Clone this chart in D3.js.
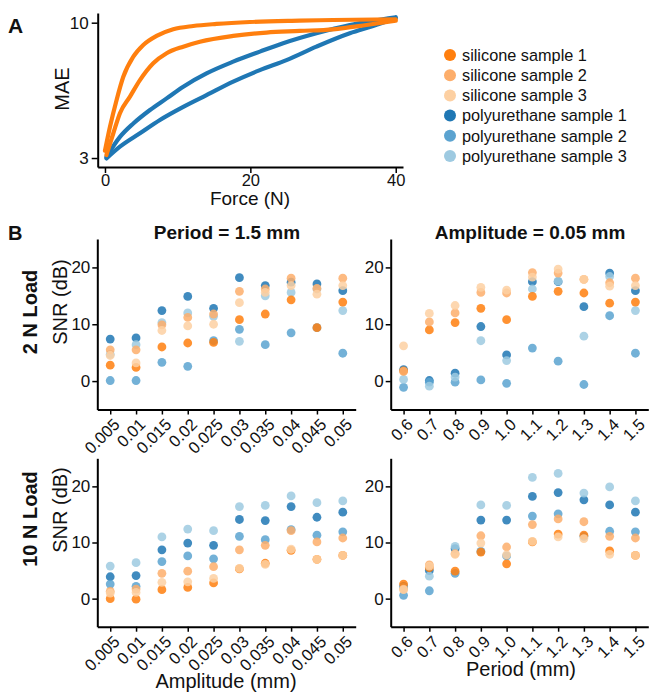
<!DOCTYPE html>
<html><head><meta charset="utf-8">
<script src="https://cdn.jsdelivr.net/npm/d3@7"></script>
<style>body{margin:0;background:#fff} text{font-family:"Liberation Sans",Arial,sans-serif}</style>
</head><body>
<svg id="c" width="649" height="692"></svg>
<script>
// ---------- Panel A data (Force N, MAE) ----------
const silUpForce = [0, 0.69, 1.6, 2.52, 3.9, 5.27, 7.1, 9.39, 12.14, 15.35, 19.93, 26.8, 31.38, 40];
const silUpMAE   = [3.2, 3.96, 5.03, 6.18, 7.39, 8.20, 8.89, 9.43, 9.71, 9.89, 10.06, 10.18, 10.24, 10.31];
const silDnForce = [0.2, 1.15, 2.06, 3.44, 4.81, 6.64, 8.48, 10.77, 13.06, 17.64, 22.22, 26.8, 31.38, 35.97, 40];
const silDnMAE   = [3.08, 3.74, 4.47, 5.18, 6.00, 6.97, 7.62, 8.08, 8.44, 8.89, 9.16, 9.29, 9.43, 9.80, 10.18];
const puUpForce  = [0.2, 2.06, 3.9, 6.19, 8.48, 10.77, 13.97, 17.64, 21.31, 24.51, 29.09, 33.68, 40];
const puUpMAE    = [3.03, 3.62, 4.08, 4.60, 5.10, 5.66, 6.37, 7.07, 7.73, 8.33, 9.10, 9.80, 10.50];
const puDnForce  = [0.2, 2.06, 4.81, 7.56, 10.77, 13.97, 17.64, 21.31, 24.97, 29.09, 33.68, 36.88, 40];
const puDnMAE    = [2.99, 3.32, 3.74, 4.21, 4.73, 5.25, 5.92, 6.56, 7.17, 8.08, 9.10, 9.71, 10.40];
const forceTicks = [0, 20, 40];
const maeTicks = [3, 10];

// ---------- Panel B data ----------
const seriesNames = ["silicone sample 1","silicone sample 2","silicone sample 3",
                     "polyurethane sample 1","polyurethane sample 2","polyurethane sample 3"];
const seriesColors = ["#ff7f0e","#fdae6b","#fdd0a2","#1f77b4","#5ba3d0","#9ecae1"];
const amplitudes = ["0.005","0.01","0.015","0.02","0.025","0.03","0.035","0.04","0.045","0.05"];
const periods = ["0.6","0.7","0.8","0.9","1.0","1.1","1.2","1.3","1.4","1.5"];
const snrTicks = [0, 10, 20];

// SNR vs amplitude, period = 1.5 mm, 2 N load (rows = series)
const snrAmp2N = [
  [2.8, 2.4, 6.0, 6.7, 6.8, 10.8, 11.8, 14.3, 9.4, 13.9],
  [5.5, 5.5, 9.9, 11.2, 11.8, 15.8, 16.2, 18.1, 16.3, 18.1],
  [4.5, 3.2, 8.9, 9.7, 10.0, 13.8, 15.6, 16.8, 15.3, 16.8],
  [7.4, 7.6, 12.4, 14.9, 12.8, 18.2, 16.8, 17.4, 17.1, 15.9],
  [0.1, 0.1, 3.3, 2.6, 7.1, 9.1, 6.4, 8.5, 9.4, 4.9],
  [4.7, 6.4, 10.3, 12.0, 11.4, 7.0, 15.0, 15.6, 16.2, 12.4]
];
// SNR vs period, amplitude = 0.05 mm, 2 N load
const snrPer2N = [
  [1.8, 9.0, 10.3, 12.8, 10.8, 14.9, 15.8, 15.5, 13.7, 13.9],
  [1.7, 10.4, 12.0, 15.6, 15.5, 19.1, 19.0, 17.9, 17.3, 18.1],
  [6.2, 11.9, 13.3, 16.5, 16.0, 18.3, 19.7, 17.9, 16.7, 16.8],
  [2.0, 0.1, 1.4, 9.6, 4.6, 17.5, 17.5, 13.1, 19.0, 15.9],
  [-1.1, -0.2, -0.2, 0.2, -0.4, 5.8, 3.5, -0.6, 11.5, 4.9],
  [0.3, -0.9, 0.7, 7.1, 3.6, 16.2, 17.6, 7.9, 18.4, 12.4]
];
// SNR vs amplitude, period = 1.5 mm, 10 N load
const snrAmp10N = [
  [0.0, -0.1, 1.6, 2.0, 2.8, 5.3, 6.3, 8.6, 7.0, 7.7],
  [1.3, 1.7, 4.5, 4.9, 5.7, 8.7, 9.5, 12.1, 10.1, 10.8],
  [1.0, 1.1, 2.9, 3.0, 3.6, 5.4, 6.1, 8.8, 7.0, 7.7],
  [3.9, 4.1, 8.7, 9.9, 9.5, 14.1, 13.9, 16.4, 14.5, 15.4],
  [2.6, 2.2, 6.6, 7.6, 7.1, 11.1, 10.5, 12.3, 11.3, 11.9],
  [5.8, 6.4, 11.0, 12.4, 12.1, 16.4, 16.6, 18.3, 17.1, 17.4]
];
// SNR vs period, amplitude = 0.05 mm, 10 N load
const snrPer10N = [
  [2.6, 5.5, 4.9, 8.3, 6.2, 10.1, 11.5, 11.3, 8.5, 7.7],
  [1.7, 6.0, 8.0, 11.2, 9.2, 13.2, 14.2, 13.7, 11.1, 10.8],
  [1.6, 5.8, 7.9, 9.9, 7.8, 10.2, 11.0, 10.7, 7.9, 7.7],
  [2.2, 5.0, 8.9, 14.0, 14.0, 18.2, 18.9, 17.6, 16.7, 15.4],
  [0.6, 1.4, 4.5, 8.4, 7.6, 14.7, 15.1, 11.1, 12.0, 11.9],
  [2.0, 4.0, 9.3, 16.7, 16.6, 21.6, 22.3, 18.8, 19.9, 17.4]
];

const FONT = "Liberation Sans, Arial, sans-serif";
const svg = d3.select("#c");

function styleAxis(g, fs) {
  g.attr("font-size", fs).attr("font-family", FONT);
  g.select(".domain").attr("stroke", "#000").attr("stroke-width", 2);
  g.selectAll(".tick line").attr("stroke", "#000").attr("stroke-width", 1.5);
  g.selectAll(".tick text").attr("fill", "#111");
}
function label(x, y, txt, fs, opts = {}) {
  const t = svg.append("text").attr("x", x).attr("y", y).text(txt)
    .attr("font-size", fs).attr("font-family", FONT).attr("fill", "#111")
    .attr("text-anchor", opts.anchor || "middle");
  if (opts.bold) t.attr("font-weight", "bold");
  if (opts.rotate) t.attr("transform", `rotate(-90,${x},${y})`);
  return t;
}

// ---------- Panel A ----------
const xA = d3.scaleLinear().domain([-1, 41]).range([97.7, 403]);
const yA = d3.scaleLog().domain([2.77, 10.9]).range([167, 13]);
const lineA = d3.line().x(d => xA(d[0])).y(d => yA(d[1])).curve(d3.curveMonotoneX);
const curves = [
  [puUpForce, puUpMAE, "#1f77b4"],
  [puDnForce, puDnMAE, "#1f77b4"],
  [silUpForce, silUpMAE, "#ff7f0e"],
  [silDnForce, silDnMAE, "#ff7f0e"]
];
curves.forEach(([fx, my, col]) => {
  svg.append("path").datum(d3.zip(fx, my)).attr("d", lineA)
    .attr("fill", "none").attr("stroke", col).attr("stroke-width", 4.2)
    .attr("stroke-linecap", "round").attr("stroke-linejoin", "round");
});
const gAx = svg.append("g").attr("transform", "translate(0,167)")
  .call(d3.axisBottom(xA).tickValues(forceTicks).tickSize(6).tickSizeOuter(0).tickPadding(1));
styleAxis(gAx, 16.5);
const gAy = svg.append("g").attr("transform", "translate(97.7,0)")
  .call(d3.axisLeft(yA).tickValues(maeTicks).tickFormat(d3.format("d")).tickSize(6).tickSizeOuter(0).tickPadding(3));
styleAxis(gAy, 17);
label(250, 205, "Force (N)", 19);
label(69, 89, "MAE", 20, {rotate: true});
label(8, 33, "A", 21, {bold: true, anchor: "start"});

// Legend
seriesNames.forEach((n, i) => {
  const cy = 55 + i * 20.2;
  svg.append("circle").attr("cx", 450).attr("cy", cy).attr("r", 6).attr("fill", seriesColors[i]);
  svg.append("text").attr("x", 462).attr("y", cy).attr("dy", "0.36em").text(n)
    .attr("font-size", 16.3).attr("font-family", FONT).attr("fill", "#111");
});

// ---------- Panel B ----------
const xAmp = d3.scalePoint().domain(amplitudes).range([97.3, 355.7]).padding(0.5);
const xPer = d3.scalePoint().domain(periods).range([390.7, 648.3]).padding(0.5);
const yTop = d3.scaleLinear().domain([-5, 25]).range([409.5, 239]);
const yBot = d3.scaleLinear().domain([-5, 25]).range([626.7, 458.3]);

function panel(xs, ys, data, cats, xLeft) {
  const y0 = ys.range()[0];
  const gx = svg.append("g").attr("transform", `translate(0,${y0})`)
    .call(d3.axisBottom(xs).tickSize(5).tickSizeOuter(0));
  styleAxis(gx, 16.5);
  gx.selectAll(".tick text").attr("text-anchor", "end").attr("x", 0).attr("y", 0).attr("dy", 0)
    .attr("transform", "translate(10,16) rotate(-45)");
  const gy = svg.append("g").attr("transform", `translate(${xLeft},0)`)
    .call(d3.axisLeft(ys).tickValues(snrTicks).tickSize(5).tickSizeOuter(0).tickPadding(2));
  styleAxis(gy, 17);
  // polyurethane first, silicone on top
  [3, 4, 5, 0, 1, 2].forEach(si => {
    svg.append("g").selectAll("circle").data(data[si]).join("circle")
      .attr("cx", (d, i) => xs(cats[i])).attr("cy", d => ys(d)).attr("r", 4.4)
      .attr("fill", seriesColors[si]).attr("fill-opacity", 0.85);
  });
}
panel(xAmp, yTop, snrAmp2N, amplitudes, 97.3);
panel(xPer, yTop, snrPer2N, periods, 390.7);
panel(xAmp, yBot, snrAmp10N, amplitudes, 97.3);
panel(xPer, yBot, snrPer10N, periods, 390.7);

label(227, 239, "Period = 1.5 mm", 19, {bold: true});
label(530, 239, "Amplitude = 0.05 mm", 19, {bold: true});
label(8, 240, "B", 20, {bold: true, anchor: "start"});
label(67, 302, "SNR (dB)", 20, {rotate: true});
label(67, 510, "SNR (dB)", 20, {rotate: true});
label(37, 312, "2 N Load", 20, {rotate: true, bold: true});
label(37, 519, "10 N Load", 20, {rotate: true, bold: true});
label(226, 688, "Amplitude (mm)", 20);
label(521, 676, "Period (mm)", 20);
</script>
</body></html>
